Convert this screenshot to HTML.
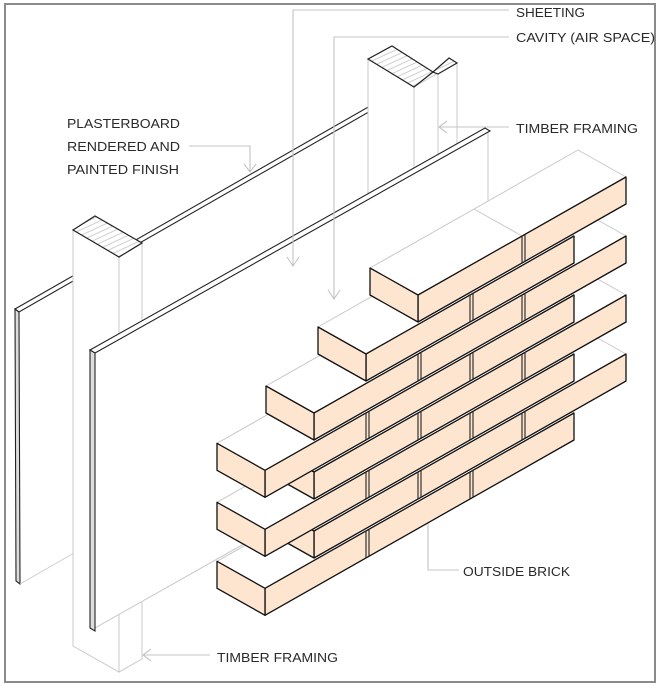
<!DOCTYPE html>
<html><head><meta charset="utf-8"><style>
html,body{margin:0;padding:0;background:#fff;}
svg{display:block;}
text{font-family:"Liberation Sans",sans-serif;font-size:13px;fill:#2a2a2a;}
</style></head><body>
<svg width="658" height="686" viewBox="0 0 658 686" xmlns="http://www.w3.org/2000/svg">
<defs>
<pattern id="hatch" patternUnits="userSpaceOnUse" width="5" height="5" patternTransform="rotate(-25)">
<rect width="5" height="5" fill="#fff"/><line x1="0" y1="2.5" x2="5" y2="2.5" stroke="#bbb" stroke-width="0.7"/>
</pattern>
</defs>
<rect x="0" y="0" width="658" height="686" fill="#fff"/>
<rect x="5" y="4" width="650" height="678" fill="none" stroke="#8a8a8a" stroke-width="2"/>

<!-- back board -->
<polygon points="15,309 370,106 374,109 19,312" fill="#fff" stroke="#222" stroke-width="1.1"/>
<polygon points="15,309 19,312 20,584 16,581" fill="#ddd" stroke="#222" stroke-width="1.1"/>
<line x1="20" y1="584" x2="74" y2="553" stroke="#ccc" stroke-width="1"/>

<!-- back post -->
<g stroke="#c8c8c8" stroke-width="1" fill="#fff">
<polygon points="368,59 414,87 414,320 368,294"/>
<polygon points="414,87 438,73 438,320 414,320"/>
<polygon points="438,73 457,63 457,300 438,310"/>
</g>
<polygon points="368,59 392,46 433,72 414,87" fill="url(#hatch)" stroke="#222" stroke-width="1.2"/>
<polygon points="433,72 449,58 457,63 438,74" fill="url(#hatch)" stroke="#222" stroke-width="1.2"/>

<!-- left post -->
<g stroke="#c8c8c8" stroke-width="1" fill="#fff">
<polygon points="73,230 119,257 119,672 73,646"/>
<polygon points="119,257 142,243 142,659 119,672"/>
</g>
<polygon points="73,230 95,216 142,243 119,257" fill="url(#hatch)" stroke="#222" stroke-width="1.2"/>

<!-- front board -->
<polygon points="95,353 488,131 488,406 95,628" fill="#fff" stroke="#c8c8c8" stroke-width="1"/>
<polygon points="90,350 485,128 490,131 95,353" fill="#fff" stroke="#222" stroke-width="1.1"/>
<polygon points="90,350 95,353 95,631 90,628" fill="#ddd" stroke="#222" stroke-width="1.1"/>

<!-- leaders -->
<g stroke="#c4c4c4" stroke-width="1.1" fill="none">
<polyline points="509,10 293,10 293,266"/><polyline points="287,257 293,266 299,257"/>
<polyline points="509,37 334,37 334,299"/><polyline points="328,290 334,299 340,290"/>
<line x1="439" y1="127" x2="509" y2="127"/><polyline points="447,121 439,127 447,133"/>
<polyline points="189,146 250,146 250,172"/><polyline points="244,164 250,172 256,164"/>
<polyline points="459,570 428,570 428,503"/><polyline points="422,511 428,503 434,511"/>
<line x1="143" y1="655" x2="210" y2="655"/><polyline points="151,649 143,655 151,661"/>
</g>

<!-- bricks: drawn bottom course first -->
<g stroke-linejoin="round">
<!-- k=7 -->
<polygon points="265,588.3 574,413 526,386 217,561.3" fill="#fff" stroke="#c8c8c8"/>
<polygon points="265,588.3 574,413 574,440 265,615.3" fill="#fde5cf" stroke="#111" stroke-width="1.3"/>
<polygon points="265,588.3 217,561.3 217,588.3 265,615.3" fill="#fde5cf" stroke="#111" stroke-width="1.3"/>
<g stroke="#222" stroke-width="1.1"><line x1="366" y1="530.5" x2="366" y2="557.5"/><line x1="369" y1="528.8" x2="369" y2="555.8"/><line x1="470" y1="471.5" x2="470" y2="498.5"/><line x1="473" y1="469.8" x2="473" y2="496.8"/></g>
<!-- k=6 -->
<polygon points="314,531 626,354 578,327 266,504" fill="#fff" stroke="#c8c8c8"/>
<polygon points="314,531 626,354 626,381 314,558" fill="#fde5cf" stroke="#111" stroke-width="1.3"/>
<polygon points="314,531 266,504 266,531 314,558" fill="#fde5cf" stroke="#111" stroke-width="1.3"/>
<g stroke="#222" stroke-width="1.1"><line x1="418" y1="472" x2="418" y2="499"/><line x1="421" y1="470.3" x2="421" y2="497.3"/><line x1="522" y1="413" x2="522" y2="440"/><line x1="525" y1="411.3" x2="525" y2="438.3"/></g>
<!-- k=5 -->
<polygon points="265,529.3 574,354 526,327 217,502.3" fill="#fff" stroke="#c8c8c8"/>
<polygon points="265,529.3 574,354 574,381 265,556.3" fill="#fde5cf" stroke="#111" stroke-width="1.3"/>
<polygon points="265,529.3 217,502.3 217,529.3 265,556.3" fill="#fde5cf" stroke="#111" stroke-width="1.3"/>
<g stroke="#222" stroke-width="1.1"><line x1="366" y1="472" x2="366" y2="499"/><line x1="369" y1="470.3" x2="369" y2="497.3"/><line x1="470" y1="413" x2="470" y2="440"/><line x1="473" y1="411.3" x2="473" y2="438.3"/></g>
<!-- k=4 -->
<polygon points="314,472 626,295 578,268 266,445" fill="#fff" stroke="#c8c8c8"/>
<polygon points="314,472 626,295 626,322 314,499" fill="#fde5cf" stroke="#111" stroke-width="1.3"/>
<polygon points="314,472 266,445 266,472 314,499" fill="#fde5cf" stroke="#111" stroke-width="1.3"/>
<g stroke="#222" stroke-width="1.1"><line x1="418" y1="413" x2="418" y2="440"/><line x1="421" y1="411.3" x2="421" y2="438.3"/><line x1="522" y1="354" x2="522" y2="381"/><line x1="525" y1="352.3" x2="525" y2="379.3"/></g>
<!-- k=3 -->
<polygon points="265,470.3 574,295 526,268 217,443.3" fill="#fff" stroke="#c8c8c8"/>
<polygon points="265,470.3 574,295 574,322 265,497.3" fill="#fde5cf" stroke="#111" stroke-width="1.3"/>
<polygon points="265,470.3 217,443.3 217,470.3 265,497.3" fill="#fde5cf" stroke="#111" stroke-width="1.3"/>
<g stroke="#222" stroke-width="1.1"><line x1="366" y1="413" x2="366" y2="440"/><line x1="369" y1="411.3" x2="369" y2="438.3"/><line x1="470" y1="354" x2="470" y2="381"/><line x1="473" y1="352.3" x2="473" y2="379.3"/></g>
<!-- k=2 -->
<polygon points="314,413 626,236 578,209 266,386" fill="#fff" stroke="#c8c8c8"/>
<polygon points="314,413 626,236 626,263 314,440" fill="#fde5cf" stroke="#111" stroke-width="1.3"/>
<polygon points="314,413 266,386 266,413 314,440" fill="#fde5cf" stroke="#111" stroke-width="1.3"/>
<g stroke="#222" stroke-width="1.1"><line x1="418" y1="354" x2="418" y2="381"/><line x1="421" y1="352.3" x2="421" y2="379.3"/><line x1="522" y1="295" x2="522" y2="322"/><line x1="525" y1="293.3" x2="525" y2="320.3"/></g>
<!-- k=1 -->
<polygon points="366,354 574,236 526,209 318,327" fill="#fff" stroke="#c8c8c8"/>
<line x1="470" y1="295" x2="422" y2="268" stroke="#c8c8c8"/>
<polygon points="366,354 574,236 574,263 366,381" fill="#fde5cf" stroke="#111" stroke-width="1.3"/>
<polygon points="366,354 318,327 318,354 366,381" fill="#fde5cf" stroke="#111" stroke-width="1.3"/>
<g stroke="#222" stroke-width="1.1"><line x1="470" y1="295" x2="470" y2="322"/><line x1="473" y1="293.3" x2="473" y2="320.3"/></g>
<!-- k=0 -->
<polygon points="418,295 626,177 578,150 370,268" fill="#fff" stroke="#c8c8c8"/>
<line x1="522" y1="236" x2="474" y2="209" stroke="#c8c8c8"/>
<polygon points="418,295 626,177 626,204 418,322" fill="#fde5cf" stroke="#111" stroke-width="1.3"/>
<polygon points="418,295 370,268 370,295 418,322" fill="#fde5cf" stroke="#111" stroke-width="1.3"/>
<g stroke="#222" stroke-width="1.1"><line x1="522" y1="236" x2="522" y2="263"/><line x1="525" y1="234.3" x2="525" y2="261.3"/></g>
</g>

<!-- labels -->
<text x="516" y="17" textLength="69" lengthAdjust="spacingAndGlyphs">SHEETING</text>
<text x="516" y="42" textLength="139" lengthAdjust="spacingAndGlyphs">CAVITY (AIR SPACE)</text>
<text x="516" y="133" textLength="122" lengthAdjust="spacingAndGlyphs">TIMBER FRAMING</text>
<text x="67" y="128" textLength="113" lengthAdjust="spacingAndGlyphs">PLASTERBOARD</text>
<text x="67" y="151" textLength="113" lengthAdjust="spacingAndGlyphs">RENDERED AND</text>
<text x="67" y="174" textLength="112" lengthAdjust="spacingAndGlyphs">PAINTED FINISH</text>
<text x="463" y="576" textLength="107" lengthAdjust="spacingAndGlyphs">OUTSIDE BRICK</text>
<text x="217" y="662" textLength="121" lengthAdjust="spacingAndGlyphs">TIMBER FRAMING</text>
</svg>
</body></html>
